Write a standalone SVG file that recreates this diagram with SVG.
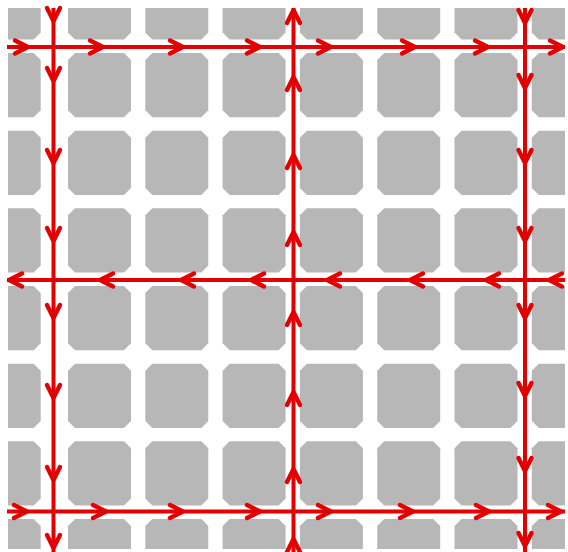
<svg xmlns="http://www.w3.org/2000/svg" xmlns:xlink="http://www.w3.org/1999/xlink" width="568" height="552" viewBox="0 0 568 552">
  <style>
    .blk { fill: #b7b7b7; }
    .road { stroke: #e20000; stroke-width: 4; fill: none; stroke-linecap: butt; }
    .arr { stroke: #e20000; stroke-width: 4.4; fill: none; stroke-linecap: round; stroke-linejoin: round; }
  </style>
  <defs>
    <path id="b" class="blk" d="M7,0H56L63,7V57.3L56,64.3H7L0,57.3V7Z"/>
    <path id="ch" class="arr" d="M-13,-6.5L0,0L-13,6.5"/>
    <clipPath id="clip"><rect x="8" y="8" width="557" height="541"/></clipPath>
  </defs>
  <rect width="568" height="552" fill="#ffffff"/>
  <g id="blocks" clip-path="url(#clip)">
    <g id="row0">
      <use href="#b" x="-22.3" y="-24.7"/><use href="#b" x="68" y="-24.7"/><use href="#b" x="145.3" y="-24.7"/><use href="#b" x="222.6" y="-24.7"/><use href="#b" x="299.9" y="-24.7"/><use href="#b" x="377.2" y="-24.7"/><use href="#b" x="454.5" y="-24.7"/><use href="#b" x="531.8" y="-24.7"/>
    </g>
    <g id="row1">
      <use href="#b" x="-22.3" y="53"/><use href="#b" x="68" y="53"/><use href="#b" x="145.3" y="53"/><use href="#b" x="222.6" y="53"/><use href="#b" x="299.9" y="53"/><use href="#b" x="377.2" y="53"/><use href="#b" x="454.5" y="53"/><use href="#b" x="531.8" y="53"/>
    </g>
    <g id="row2">
      <use href="#b" x="-22.3" y="130.7"/><use href="#b" x="68" y="130.7"/><use href="#b" x="145.3" y="130.7"/><use href="#b" x="222.6" y="130.7"/><use href="#b" x="299.9" y="130.7"/><use href="#b" x="377.2" y="130.7"/><use href="#b" x="454.5" y="130.7"/><use href="#b" x="531.8" y="130.7"/>
    </g>
    <g id="row3">
      <use href="#b" x="-22.3" y="208.3"/><use href="#b" x="68" y="208.3"/><use href="#b" x="145.3" y="208.3"/><use href="#b" x="222.6" y="208.3"/><use href="#b" x="299.9" y="208.3"/><use href="#b" x="377.2" y="208.3"/><use href="#b" x="454.5" y="208.3"/><use href="#b" x="531.8" y="208.3"/>
    </g>
    <g id="row4">
      <use href="#b" x="-22.3" y="286"/><use href="#b" x="68" y="286"/><use href="#b" x="145.3" y="286"/><use href="#b" x="222.6" y="286"/><use href="#b" x="299.9" y="286"/><use href="#b" x="377.2" y="286"/><use href="#b" x="454.5" y="286"/><use href="#b" x="531.8" y="286"/>
    </g>
    <g id="row5">
      <use href="#b" x="-22.3" y="363.7"/><use href="#b" x="68" y="363.7"/><use href="#b" x="145.3" y="363.7"/><use href="#b" x="222.6" y="363.7"/><use href="#b" x="299.9" y="363.7"/><use href="#b" x="377.2" y="363.7"/><use href="#b" x="454.5" y="363.7"/><use href="#b" x="531.8" y="363.7"/>
    </g>
    <g id="row6">
      <use href="#b" x="-22.3" y="441.3"/><use href="#b" x="68" y="441.3"/><use href="#b" x="145.3" y="441.3"/><use href="#b" x="222.6" y="441.3"/><use href="#b" x="299.9" y="441.3"/><use href="#b" x="377.2" y="441.3"/><use href="#b" x="454.5" y="441.3"/><use href="#b" x="531.8" y="441.3"/>
    </g>
    <g id="row7">
      <use href="#b" x="-22.3" y="519"/><use href="#b" x="68" y="519"/><use href="#b" x="145.3" y="519"/><use href="#b" x="222.6" y="519"/><use href="#b" x="299.9" y="519"/><use href="#b" x="377.2" y="519"/><use href="#b" x="454.5" y="519"/><use href="#b" x="531.8" y="519"/>
    </g>
  </g>
  <g id="connectors">
    <g id="h1">
      <path class="road" d="M7,47H565"/>
      <use href="#ch" transform="translate(28,47)"/><use href="#ch" transform="translate(103,47)"/><use href="#ch" transform="translate(183,47)"/><use href="#ch" transform="translate(260,47)"/><use href="#ch" transform="translate(331,47)"/><use href="#ch" transform="translate(415,47)"/><use href="#ch" transform="translate(488,47)"/><use href="#ch" transform="translate(563,47)"/>
    </g>
    <g id="h2">
      <path class="road" d="M565,280H7"/>
      <use href="#ch" transform="translate(9,280) rotate(180)"/><use href="#ch" transform="translate(100,280) rotate(180)"/><use href="#ch" transform="translate(181,280) rotate(180)"/><use href="#ch" transform="translate(251,280) rotate(180)"/><use href="#ch" transform="translate(327,280) rotate(180)"/><use href="#ch" transform="translate(410,280) rotate(180)"/><use href="#ch" transform="translate(486,280) rotate(180)"/><use href="#ch" transform="translate(549,280) rotate(180)"/>
    </g>
    <g id="h3">
      <path class="road" d="M7,511.5H565"/>
      <use href="#ch" transform="translate(27,511.5)"/><use href="#ch" transform="translate(106,511.5)"/><use href="#ch" transform="translate(183,511.5)"/><use href="#ch" transform="translate(260,511.5)"/><use href="#ch" transform="translate(331,511.5)"/><use href="#ch" transform="translate(413,511.5)"/><use href="#ch" transform="translate(489,511.5)"/><use href="#ch" transform="translate(561,511.5)"/>
    </g>
    <g id="v1">
      <path class="road" d="M53.5,8V552"/>
      <use href="#ch" transform="translate(53.5,21) rotate(90)"/><use href="#ch" transform="translate(53.5,81) rotate(90)"/><use href="#ch" transform="translate(53.5,163) rotate(90)"/><use href="#ch" transform="translate(53.5,241) rotate(90)"/><use href="#ch" transform="translate(53.5,318) rotate(90)"/><use href="#ch" transform="translate(53.5,398) rotate(90)"/><use href="#ch" transform="translate(53.5,480) rotate(90)"/><use href="#ch" transform="translate(53.5,548) rotate(90)"/>
    </g>
    <g id="v2">
      <path class="road" d="M293.5,552V8"/>
      <use href="#ch" transform="translate(293.5,10) rotate(-90)"/><use href="#ch" transform="translate(293.5,77) rotate(-90)"/><use href="#ch" transform="translate(293.5,155) rotate(-90)"/><use href="#ch" transform="translate(293.5,232) rotate(-90)"/><use href="#ch" transform="translate(293.5,312) rotate(-90)"/><use href="#ch" transform="translate(293.5,392) rotate(-90)"/><use href="#ch" transform="translate(293.5,469) rotate(-90)"/><use href="#ch" transform="translate(293.5,539) rotate(-90)"/>
    </g>
    <g id="v3">
      <path class="road" d="M525,8V552"/>
      <use href="#ch" transform="translate(525,23) rotate(90)"/><use href="#ch" transform="translate(525,88) rotate(90)"/><use href="#ch" transform="translate(525,163) rotate(90)"/><use href="#ch" transform="translate(525,241) rotate(90)"/><use href="#ch" transform="translate(525,318) rotate(90)"/><use href="#ch" transform="translate(525,396) rotate(90)"/><use href="#ch" transform="translate(525,471) rotate(90)"/><use href="#ch" transform="translate(525,546) rotate(90)"/>
    </g>
  </g>
</svg>
